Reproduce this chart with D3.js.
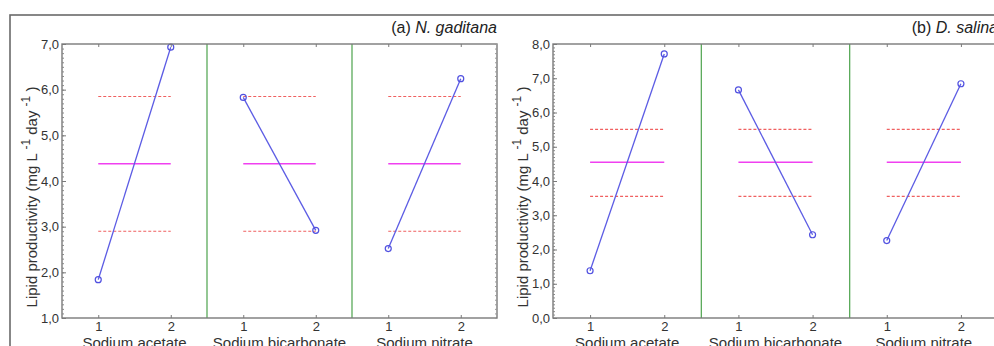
<!DOCTYPE html>
<html>
<head>
<meta charset="utf-8">
<script src="https://cdn.jsdelivr.net/npm/d3@7"></script>
<style>
  body { margin: 0; background: #fff; }
  svg { display: block; font-family: "Liberation Sans", Arial, sans-serif; }
</style>
</head>
<body>
<div id="chart"></div>
<script>
// Factores y niveles
const factors = ["Sodium acetate", "Sodium bicarbonate", "Sodium nitrate"];
const levels = [1, 2];

// (a) N. gaditana
const gaditanaMeans = [[1.84, 6.93], [5.83, 2.92], [2.52, 6.24]];
const gaditanaGrand = 4.38;
const gaditanaLimits = [2.90, 5.85];
const gaditanaTicks = [1, 2, 3, 4, 5, 6, 7];

// (b) D. salina
const salinaMeans = [[1.38, 7.71], [6.66, 2.43], [2.26, 6.84]];
const salinaGrand = 4.55;
const salinaLimits = [3.55, 5.51];
const salinaTicks = [0, 1, 2, 3, 4, 5, 6, 7, 8];

const W = 994, H = 346;
const axisColor = "#7a7a7a";
const fmt = d => d3.format(".1f")(d).replace(".", ",");

const svg = d3.select("#chart").append("svg")
  .attr("width", W)
  .attr("height", H);

// Marco exterior
svg.append("rect")
  .attr("x", 10).attr("y", 15)
  .attr("width", 1000).attr("height", 400)
  .attr("fill", "none")
  .attr("stroke", "#6a6a6a")
  .attr("stroke-width", 1.6);

function drawPanel(p) {
  const g = svg.append("g");

  const y = d3.scaleLinear().domain(p.domain).range([p.bottom, p.top]);
  const band = d3.scaleBand().domain(factors).range([p.left, p.right]).padding(0);

  // Escala x de cada sub-panel
  const xFor = f => d3.scaleLinear().domain([0.5, 2.5])
    .range([band(f), band(f) + band.bandwidth()]);

  // Separadores verdes
  g.selectAll(".divider")
    .data(factors.slice(1))
    .join("line")
    .attr("x1", f => band(f)).attr("x2", f => band(f))
    .attr("y1", p.top).attr("y2", p.bottom)
    .attr("stroke", "#5aaa5a")
    .attr("stroke-width", 1.3);

  factors.forEach((f, i) => {
    const x = xFor(f);
    const [x1, x2] = d3.extent(levels, x);

    // Límites (rojo discontinuo)
    g.selectAll(null)
      .data(p.limits)
      .join("line")
      .attr("x1", x1).attr("x2", x2)
      .attr("y1", d => y(d)).attr("y2", d => y(d))
      .attr("stroke", "#f06060")
      .attr("stroke-width", 1.2)
      .attr("stroke-dasharray", "3,2");

    // Media global (magenta)
    g.append("line")
      .attr("x1", x1).attr("x2", x2)
      .attr("y1", y(p.grand)).attr("y2", y(p.grand))
      .attr("stroke", "#f040f0")
      .attr("stroke-width", 1.5);

    const pts = levels.map((l, j) => ({l, v: p.means[i][j]}));

    g.append("path")
      .datum(pts)
      .attr("fill", "none")
      .attr("stroke", "#5c5ce4")
      .attr("stroke-width", 1.3)
      .attr("d", d3.line().x(d => x(d.l)).y(d => y(d.v)));

    g.selectAll(null)
      .data(pts)
      .join("circle")
      .attr("cx", d => x(d.l)).attr("cy", d => y(d.v))
      .attr("r", 3)
      .attr("fill", "none")
      .attr("stroke", "#5050e0")
      .attr("stroke-width", 1.2);

    // Eje superior e inferior (ticks hacia dentro)
    const top = g.append("g")
      .attr("transform", `translate(0,${p.top})`)
      .call(d3.axisTop(x).tickValues(levels).tickSize(-3).tickFormat(""));
    top.select(".domain").remove();
    top.selectAll("line").attr("stroke", axisColor);

    const bot = g.append("g")
      .attr("transform", `translate(0,${p.bottom})`)
      .call(d3.axisBottom(x).tickValues(levels).tickSize(-3).tickPadding(4).tickFormat(d3.format("d")));
    bot.select(".domain").remove();
    bot.selectAll("line").attr("stroke", axisColor);
    bot.selectAll("text")
      .attr("font-size", 13)
      .attr("fill", "#333")
      .attr("font-family", "Liberation Sans, Arial, sans-serif");

    // Nombre del factor
    g.append("text")
      .attr("x", band(f) + band.bandwidth() / 2)
      .attr("y", p.bottom + 30)
      .attr("text-anchor", "middle")
      .attr("font-size", 15)
      .attr("fill", "#333")
      .text(f);
  });

  // Marco del gráfico
  g.append("rect")
    .attr("x", p.left).attr("y", p.top)
    .attr("width", p.right - p.left).attr("height", p.bottom - p.top)
    .attr("fill", "none")
    .attr("stroke", axisColor)
    .attr("stroke-width", 1.4);

  // Ticks menores izquierda y derecha
  const minor = d3.range(p.domain[0], p.domain[1] + 1e-6, 0.1);
  const lm = g.append("g")
    .attr("transform", `translate(${p.left},0)`)
    .call(d3.axisLeft(y).tickValues(minor).tickSize(-2).tickFormat(""));
  lm.select(".domain").remove();
  lm.selectAll("line").attr("stroke", "#888");

  const rm = g.append("g")
    .attr("transform", `translate(${p.right},0)`)
    .call(d3.axisRight(y).tickValues(minor).tickSize(-2).tickFormat(""));
  rm.select(".domain").remove();
  rm.selectAll("line").attr("stroke", "#999");

  // Eje y con etiquetas
  const ax = g.append("g")
    .attr("transform", `translate(${p.left},0)`)
    .call(d3.axisLeft(y).tickValues(p.ticks).tickSize(-4).tickPadding(3).tickFormat(fmt));
  ax.select(".domain").remove();
  ax.selectAll("line").attr("stroke", axisColor);
  ax.selectAll("text")
    .attr("font-size", 13)
    .attr("fill", "#333")
    .attr("font-family", "Liberation Sans, Arial, sans-serif");

  // Título del eje y
  const yl = g.append("text")
    .attr("transform", `translate(${p.left - 25},197) rotate(-90)`)
    .attr("text-anchor", "middle")
    .attr("font-size", 15)
    .attr("fill", "#333");
  yl.append("tspan").text("Lipid productivity (mg L ");
  yl.append("tspan").attr("dy", -7).attr("font-size", 12).text("-1");
  yl.append("tspan").attr("dy", 7).text(" day ");
  yl.append("tspan").attr("dy", -7).attr("font-size", 12).text("-1");
  yl.append("tspan").attr("dy", 7).text(" )");

  // Título del panel
  const t = g.append("text")
    .attr("x", p.right)
    .attr("y", 33)
    .attr("text-anchor", "end")
    .attr("font-size", 16)
    .attr("fill", "#222");
  t.append("tspan").text(p.label + " ");
  t.append("tspan").attr("font-style", "italic").text(p.species);
}

drawPanel({
  left: 62, right: 497, top: 44, bottom: 318,
  domain: [1, 7], ticks: gaditanaTicks,
  means: gaditanaMeans, grand: gaditanaGrand, limits: gaditanaLimits,
  label: "(a)", species: "N. gaditana"
});

drawPanel({
  left: 553, right: 998, top: 44, bottom: 318,
  domain: [0, 8], ticks: salinaTicks,
  means: salinaMeans, grand: salinaGrand, limits: salinaLimits,
  label: "(b)", species: "D. salina"
});
</script>
</body>
</html>
